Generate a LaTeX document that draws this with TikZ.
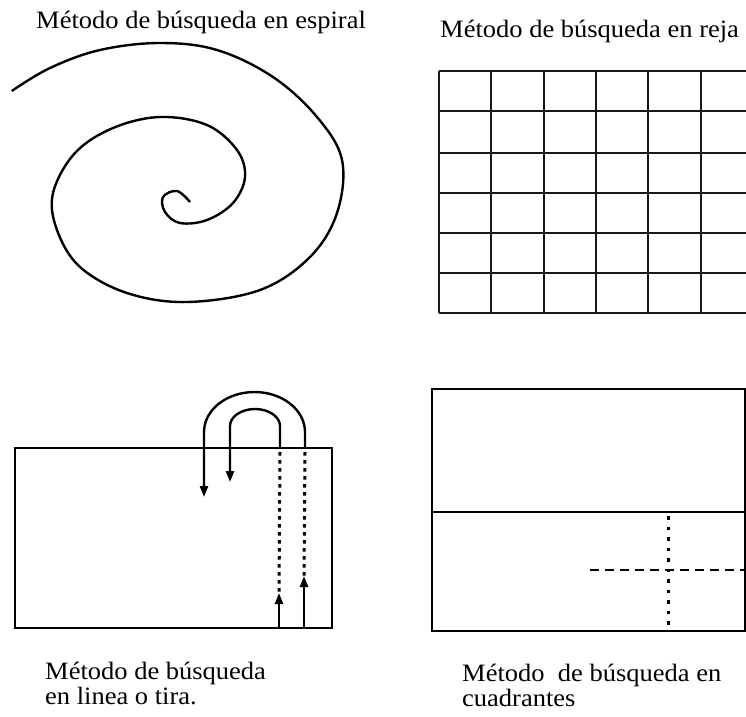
\documentclass[tikz,border=0pt]{standalone}
\usepackage{fontspec}
\setmainfont{Liberation Serif}[FakeStretch=1.06]
\usetikzlibrary{arrows.meta}
\tikzset{
  lbl/.style={anchor=base west, inner sep=0pt, font=\fontsize{25}{25}\selectfont},
  frame/.style={line width=2.2pt, black},
  gridline/.style={line width=2.8pt, black!90},
  curve/.style={line width=2.4pt, black},
  dotline/.style={line width=3pt, dash pattern=on 3.5pt off 4.5pt},
  dotlineq/.style={line width=3pt, dash pattern=on 3.5pt off 7pt},
  dashline/.style={line width=1.8pt, dash pattern=on 9pt off 6pt},
  tip/.style={-{Triangle[length=11pt,width=8pt]}}
}
\begin{document}
\begin{tikzpicture}[x=1pt,y=-1pt]
\useasboundingbox (0,0) rectangle (746,716);
\fill[white] (0,0) rectangle (746,716);

% titles
\node[lbl] (tsp) at (36,28) {Método de búsqueda en espiral};
\node[lbl] (tre) at (440,37) {Método de búsqueda en reja};

% spiral
\draw[curve] plot[smooth, tension=0.6] coordinates {
 (11.7,91) (50,68) (100,50) (160,43) (217,50) (273,77) (317,117) (342,160)
 (337,213) (310,257) (260,290) (187,302) (127,293) (80,267) (57,230) (53,193)
 (75,153) (113,128) (160,117) (207,125) (237,150) (245,177) (233,203) (207,220)
 (180,223) (165,212) (163,197) (177,191) (190,202)};

% grid
\foreach \y in {71,111,153,193,233,273,313} \draw[gridline] (439,\y) -- (746,\y);
\foreach \x in {439,491,544,596,648,701} \draw[gridline] (\x,71) -- (\x,313);

% line / strip search
\draw[frame] (15,448) rectangle (332,628);
\coordinate (oR) at (305,448);
\coordinate (oL) at (204,497);
\coordinate (iR) at (280,448);
\coordinate (iL) at (230,482);
\draw[curve,tip] (oR) -- (305,432) arc[start angle=0,end angle=180,x radius=50.5pt,y radius=40pt] -- (oL);
\draw[curve,tip] (iR) -- (280,426) arc[start angle=0,end angle=180,x radius=25pt,y radius=17pt] -- (iL);
\coordinate (bL) at (279,628);
\coordinate (bLt) at (279,593);
\coordinate (bR) at (304,628);
\coordinate (bRt) at (304,576);
\draw[dotline] (280,452) -- (bLt);
\draw[dotline] (305,452) -- (bRt);
\draw[curve,tip] (bL) -- (bLt);
\draw[curve,tip] (bR) -- (bRt);

% quadrants
\draw[frame] (432,389) rectangle (745,631);
\draw[frame] (432,512) -- (745,512);
\draw[dotlineq] (668,516) -- (668,631);
\draw[dashline] (590,570) -- (746,570);

% captions
\node[lbl] (c1a) at (45,679) {Método de búsqueda};
\node[lbl] (c1b) at (45,704) {en linea o tira.};
\node[lbl] (c2a) at (462,681) {Método~ de búsqueda en};
\node[lbl] (c2b) at (462,706) {cuadrantes};
\end{tikzpicture}
\end{document}
